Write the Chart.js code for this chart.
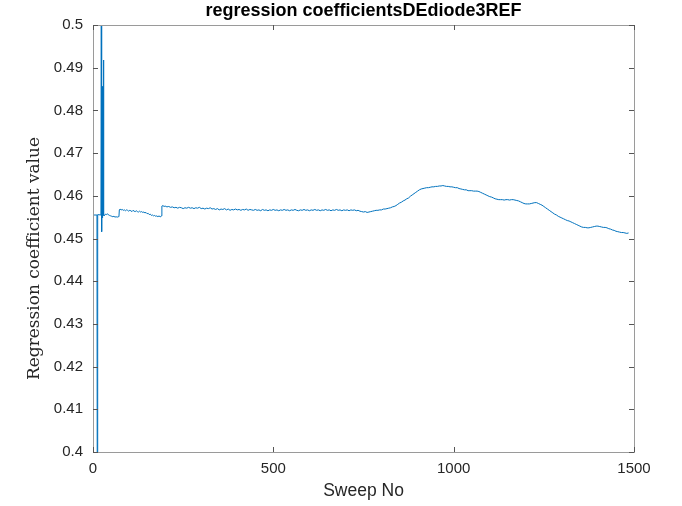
<!DOCTYPE html>
<html>
<head>
<meta charset="utf-8">
<script src="https://cdn.jsdelivr.net/npm/chart.js@4.4.1/dist/chart.umd.min.js"></script>
<style>
  html, body { margin: 0; padding: 0; background: #ffffff; }
  #wrap { width: 682px; height: 506px; }
</style>
</head>
<body>
<div id="wrap"><canvas id="c" width="682" height="506"></canvas></div>
<script>
// Sweep numbers and the fitted regression coefficient at each sweep
const sweepNo = [
  0, 1, 11, 12, 13, 22, 23, 24, 25, 26, 27, 28, 29, 30, 31,
  34, 37, 40, 43, 46, 49, 52, 55, 58, 61, 64, 67, 70, 72,
  73, 75, 78, 81, 84, 87, 90, 93, 96, 99, 102, 105, 108, 111, 114, 117, 120,
  123, 126, 129, 132, 135, 138, 141, 144, 147, 150, 153, 156, 159, 162, 165,
  168, 171, 174, 177, 180, 183, 186, 188, 190,
  191, 194, 197, 200, 205, 210, 215, 220, 225, 230, 235, 240, 245, 250,
  255, 260, 265, 270, 275, 280, 285, 290, 295, 300, 305, 310, 315, 320,
  325, 330, 335, 340, 345, 350, 355, 360, 365, 370, 375, 380, 385, 390,
  395, 400, 405, 410, 415, 420, 425, 430, 435, 440, 445, 450, 455, 460,
  465, 470, 475, 480, 485, 490, 495, 500, 505, 510, 515, 520, 525, 530,
  535, 540, 545, 550, 555, 560, 565, 570, 575, 580, 585, 590, 595, 600,
  605, 610, 615, 620, 625, 630, 635, 640, 645, 650, 655, 660, 665, 670,
  675, 680, 685, 690, 695, 700, 705, 710, 715, 720, 725, 730, 735, 740,
  745, 750, 755, 760, 765, 770, 775, 780, 785, 790, 795, 800, 805, 810,
  815, 820, 825, 830, 835, 840, 845, 850, 855, 860, 865, 870, 875, 880,
  885, 890, 895, 900, 905, 910, 915, 920, 925, 930, 935, 940, 945, 950,
  955, 960, 965, 970, 975, 980, 985, 990, 995, 1000, 1005, 1010, 1015, 1020,
  1025, 1030, 1035, 1040, 1045, 1050, 1055, 1060, 1065, 1070, 1075, 1080, 1085, 1090,
  1095, 1100, 1105, 1110, 1115, 1120, 1125, 1130, 1135, 1140, 1145, 1150, 1155, 1160,
  1165, 1170, 1175, 1180, 1185, 1190, 1195, 1200, 1205, 1210, 1215, 1220, 1225, 1230,
  1235, 1240, 1245, 1250, 1255, 1260, 1265, 1270, 1275, 1280, 1285, 1290, 1295, 1300,
  1305, 1310, 1315, 1320, 1325, 1330, 1335, 1340, 1345, 1350, 1355, 1360, 1365, 1370,
  1375, 1380, 1385, 1390, 1395, 1400, 1405, 1410, 1415, 1420, 1425, 1430, 1435, 1440,
  1445, 1450, 1455, 1460, 1465, 1470, 1475, 1480, 1485
];

const coeffValue = [
  0.372, 0.4555, 0.4555, 0.369, 0.4556, 0.4555, 0.507, 0.4516, 0.4856, 0.4548, 0.4557, 0.4554, 0.4918, 0.4556, 0.4553,
  0.4557, 0.4556, 0.4558, 0.4555, 0.4554, 0.4553, 0.4552, 0.4551, 0.4552, 0.4550, 0.4551, 0.4550, 0.4551, 0.4552,
  0.4567, 0.4569, 0.4567, 0.4568, 0.4566, 0.4567, 0.4565, 0.4567, 0.4566, 0.4564, 0.4566, 0.4565, 0.4563, 0.4566, 0.4564, 0.4563, 0.4565,
  0.4563, 0.4562, 0.4564, 0.4562, 0.4563, 0.4561, 0.4562, 0.4560, 0.4561, 0.4558, 0.4559, 0.4556, 0.4557, 0.4554, 0.4555,
  0.4553, 0.4554, 0.4552, 0.4553, 0.4551, 0.4553, 0.4551, 0.4552, 0.4553,
  0.4576, 0.4577, 0.4575, 0.4576, 0.4574, 0.4575, 0.4573, 0.4574, 0.4572, 0.4573, 0.4571, 0.4573, 0.4572, 0.4570,
  0.4572, 0.4571, 0.4573, 0.4571, 0.4572, 0.4570, 0.4572, 0.4571, 0.4573, 0.4570, 0.4571, 0.4569, 0.4571, 0.4570,
  0.4572, 0.4569, 0.4570, 0.4568, 0.4570, 0.4567, 0.4569, 0.4568, 0.4570, 0.4567, 0.4569, 0.4566, 0.4568, 0.4567,
  0.4569, 0.4567, 0.4568, 0.4566, 0.4568, 0.4567, 0.4569, 0.4566, 0.4568, 0.4567, 0.4566, 0.4568, 0.4566, 0.4567,
  0.4565, 0.4568, 0.4566, 0.4567, 0.4565, 0.4567, 0.4566, 0.4568, 0.4566, 0.4567, 0.4565, 0.4567, 0.4566, 0.4568,
  0.4566, 0.4567, 0.4565, 0.4567, 0.4566, 0.4568, 0.4566, 0.4565, 0.4567, 0.4566, 0.4568, 0.4566, 0.4567, 0.4565,
  0.4567, 0.4566, 0.4568, 0.4566, 0.4567, 0.4565, 0.4567, 0.4566, 0.4568, 0.4566, 0.4567, 0.4565, 0.4567, 0.4566,
  0.4568, 0.4566, 0.4567, 0.4565, 0.4567, 0.4566, 0.4567, 0.4565, 0.4567, 0.4566, 0.4567, 0.4565, 0.4566, 0.4564,
  0.4563, 0.4562, 0.4563, 0.4561, 0.4562, 0.4563, 0.4564, 0.4565, 0.4566, 0.4566, 0.4567, 0.4567, 0.4569, 0.4569,
  0.4570, 0.4571, 0.4572, 0.4574, 0.4575, 0.4577, 0.4580, 0.4583, 0.4585, 0.4588, 0.4590, 0.4593, 0.4595, 0.4599,
  0.4602, 0.4605, 0.4608, 0.4611, 0.4614, 0.4616, 0.4617, 0.4618, 0.4619, 0.4619, 0.4620, 0.4621, 0.4621, 0.4622,
  0.4622, 0.4623, 0.4623, 0.4624, 0.4623, 0.4622, 0.4622, 0.4621, 0.4621, 0.4620, 0.4619, 0.4619, 0.4617, 0.4616,
  0.4615, 0.4614, 0.4614, 0.4612, 0.4612, 0.4612, 0.4611, 0.4611, 0.4611, 0.4610, 0.4608, 0.4606, 0.4604, 0.4602,
  0.4600, 0.4598, 0.4597, 0.4595, 0.4593, 0.4592, 0.4591, 0.4591, 0.4591, 0.4590, 0.4591, 0.4591, 0.4590, 0.4591,
  0.4591, 0.4590, 0.4589, 0.4588, 0.4586, 0.4584, 0.4582, 0.4581, 0.4581, 0.4581, 0.4582, 0.4583, 0.4584, 0.4584,
  0.4582, 0.4580, 0.4578, 0.4575, 0.4572, 0.4569, 0.4566, 0.4563, 0.4560, 0.4557, 0.4555, 0.4552, 0.4550, 0.4548,
  0.4546, 0.4544, 0.4542, 0.4541, 0.4539, 0.4537, 0.4535, 0.4533, 0.4531, 0.4529, 0.4527, 0.4526, 0.4526, 0.4525,
  0.4525, 0.4526, 0.4527, 0.4528, 0.4529, 0.4529, 0.4528, 0.4527, 0.4526, 0.4526, 0.4525, 0.4523, 0.4522, 0.4520,
  0.4519, 0.4517, 0.4516, 0.4515, 0.4514, 0.4514, 0.4513, 0.4512, 0.4513
];

const xTickValues = [0, 500, 1000, 1500];
const yTickValues = [0.4, 0.41, 0.42, 0.43, 0.44, 0.45, 0.46, 0.47, 0.48, 0.49, 0.5];

const lineColor = '#0072BD';
const axisColor = '#262626';
const yLabelText = 'Regression coefficient value';

// Inward tick marks on all four sides, the surrounding box and the y label
const boxTicks = {
  id: 'boxTicks',
  afterDatasetsDraw(chart) {
    const { ctx, chartArea: a, scales } = chart;
    const len = 5;
    ctx.save();
    ctx.lineWidth = 1;
    ctx.strokeStyle = '#9a9a9a';
    ctx.strokeRect(Math.round(a.left) + 0.5, Math.round(a.top) + 0.5,
                   Math.round(a.right - a.left), Math.round(a.bottom - a.top));
    ctx.strokeStyle = '#555555';
    ctx.beginPath();
    xTickValues.forEach(v => {
      const px = Math.round(scales.x.getPixelForValue(v)) + 0.5;
      ctx.moveTo(px, a.bottom); ctx.lineTo(px, a.bottom - len);
      ctx.moveTo(px, a.top); ctx.lineTo(px, a.top + len);
    });
    yTickValues.forEach(v => {
      const py = Math.round(scales.y.getPixelForValue(v)) + 0.5;
      ctx.moveTo(a.left, py); ctx.lineTo(a.left + len, py);
      ctx.moveTo(a.right, py); ctx.lineTo(a.right - len, py);
    });
    ctx.stroke();

    // vertical axis label, set a little below the axis middle
    ctx.translate(35, (a.top + a.bottom) / 2 + 20);
    ctx.rotate(-Math.PI / 2);
    ctx.fillStyle = axisColor;
    ctx.font = '17px "DejaVu Serif"';
    ctx.textAlign = 'center';
    ctx.textBaseline = 'middle';
    ctx.fillText(yLabelText, 0, 0);
    ctx.restore();
  }
};

const points = sweepNo.map((s, i) => ({ x: s, y: coeffValue[i] }));

new Chart(document.getElementById('c'), {
  type: 'line',
  data: {
    datasets: [{
      data: points,
      borderColor: lineColor,
      borderWidth: 1,
      pointRadius: 0,
      tension: 0,
      fill: false
    }]
  },
  options: {
    responsive: false,
    animation: false,
    devicePixelRatio: 1,
    layout: { padding: { top: 0, right: 48, bottom: 0, left: 0 } },
    plugins: {
      legend: { display: false },
      tooltip: { enabled: false },
      title: {
        display: true,
        fullSize: false,
        text: 'regression coefficientsDEdiode3REF',
        color: '#000000',
        font: { family: 'Liberation Sans', size: 18, weight: 'bold', lineHeight: 1.2 },
        padding: { top: 0, bottom: 3.4 }
      }
    },
    scales: {
      x: {
        type: 'linear',
        min: 0, max: 1500,
        afterBuildTicks(scale) { scale.ticks = xTickValues.map(v => ({ value: v })); },
        afterFit(scale) { scale.height = 54; },
        grid: { display: false, drawTicks: false },
        border: { display: false },
        ticks: {
          color: axisColor,
          font: { family: 'Liberation Sans', size: 15 },
          padding: 8,
          maxRotation: 0,
          callback: v => String(v)
        },
        title: {
          display: true,
          text: 'Sweep No',
          color: axisColor,
          font: { family: 'Liberation Sans', size: 17.5 },
          padding: { top: 0, bottom: 4 }
        }
      },
      y: {
        type: 'linear',
        min: 0.4, max: 0.5,
        afterBuildTicks(scale) { scale.ticks = yTickValues.map(v => ({ value: v })); },
        afterFit(scale) { scale.width = 93; },
        grid: { display: false, drawTicks: false },
        border: { display: false },
        ticks: {
          color: axisColor,
          font: { family: 'Liberation Sans', size: 15 },
          padding: 10,
          callback: v => String(Number(v.toFixed(2)))
        },
        title: { display: false }
      }
    }
  },
  plugins: [boxTicks]
});
</script>
</body>
</html>
